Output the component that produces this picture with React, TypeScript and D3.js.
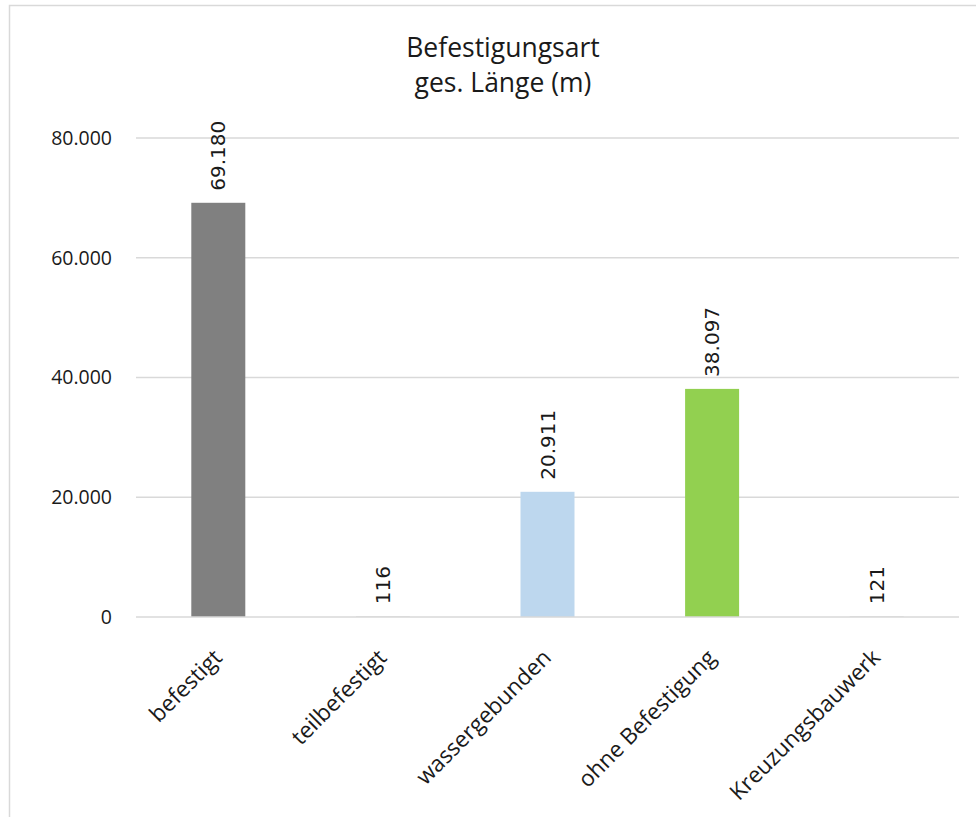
import { useEffect, useRef } from "react";
import * as d3 from "d3";

const categories = [
  "befestigt",
  "teilbefestigt",
  "wassergebunden",
  "ohne Befestigung",
  "Kreuzungsbauwerk",
];
const lengths = [69180, 116, 20911, 38097, 121];
const barColors = ["#808080", "#d9d9d9", "#bdd7ee", "#92d050", "#d9d9d9"];
const yTicks = [0, 20000, 40000, 60000, 80000];
const titleLines = ["Befestigungsart", "ges. Länge (m)"];

const width = 976;
const height = 817;
const margin = { top: 138, right: 17, bottom: 200, left: 136 };

const fmt = (v: number) => d3.format(",")(v).replace(/,/g, ".");

export default function App() {
  const svgRef = useRef<SVGSVGElement>(null);

  useEffect(() => {
    if (!svgRef.current) return;
    const svg = d3.select(svgRef.current);
    svg.selectAll("*").remove();

    const innerWidth = width - margin.left - margin.right;
    const innerHeight = height - margin.top - margin.bottom;

    // chart area frame
    svg
      .append("rect")
      .attr("x", 9.5)
      .attr("y", 5.5)
      .attr("width", width + 20)
      .attr("height", height + 20)
      .attr("fill", "#fff")
      .attr("stroke", "#d9d9d9")
      .attr("stroke-width", 1.5);

    // title
    svg
      .append("text")
      .attr("text-anchor", "middle")
      .attr("font-family", "Open Sans")
      .attr("font-size", 26.5)
      .attr("fill", "#1a1a1a")
      .selectAll("tspan")
      .data(titleLines)
      .join("tspan")
      .attr("x", 503)
      .attr("y", (_, i) => 57 + i * 35)
      .text((d) => d);

    const x = d3
      .scaleBand()
      .domain(categories)
      .range([0, innerWidth])
      .paddingInner(0.67)
      .paddingOuter(0.335);

    const y = d3.scaleLinear().domain([0, 80000]).range([innerHeight, 0]);

    const g = svg
      .append("g")
      .attr("transform", `translate(${margin.left},${margin.top})`);

    // gridlines
    g.selectAll(".grid")
      .data(yTicks.slice(1))
      .join("line")
      .attr("x1", 0)
      .attr("x2", innerWidth)
      .attr("y1", (d) => y(d))
      .attr("y2", (d) => y(d))
      .attr("stroke", "#d9d9d9")
      .attr("stroke-width", 1.5);

    // y tick labels
    g.selectAll(".ytick")
      .data(yTicks)
      .join("text")
      .attr("x", -24)
      .attr("y", (d) => y(d))
      .attr("dy", "0.35em")
      .attr("text-anchor", "end")
      .attr("font-family", "Open Sans")
      .attr("font-size", 19.5)
      .attr("fill", "#1a1a1a")
      .text((d) => fmt(d));

    // bars
    const barW = 54;
    g.selectAll(".bar")
      .data(lengths)
      .join("rect")
      .attr("x", (_, i) => (x(categories[i]) || 0) + x.bandwidth() / 2 - barW / 2)
      .attr("y", (d) => y(d))
      .attr("width", barW)
      .attr("height", (d) => innerHeight - y(d))
      .attr("fill", (_, i) => barColors[i]);

    // x axis line
    g.append("line")
      .attr("x1", 0)
      .attr("x2", innerWidth)
      .attr("y1", innerHeight)
      .attr("y2", innerHeight)
      .attr("stroke", "#d9d9d9")
      .attr("stroke-width", 1.5);

    // value labels
    g.selectAll(".value")
      .data(lengths)
      .join("text")
      .attr("transform", (d, i) => {
        const cx = (x(categories[i]) || 0) + x.bandwidth() / 2;
        return `translate(${cx + 7},${y(d) - 12}) rotate(-90)`;
      })
      .attr("text-anchor", "start")
      .attr("font-family", "DejaVu Sans")
      .attr("font-size", 20)
      .attr("fill", "#1a1a1a")
      .text((d) => fmt(d));

    // category labels
    g.selectAll(".cat")
      .data(categories)
      .join("text")
      .attr("transform", (d) => {
        const cx = (x(d) || 0) + x.bandwidth() / 2;
        return `translate(${cx + 5},${innerHeight + 42}) rotate(-45)`;
      })
      .attr("text-anchor", "end")
      .attr("font-family", "Open Sans")
      .attr("font-size", 22.5)
      .attr("fill", "#1a1a1a")
      .text((d) => d);
  }, []);

  return (
    <svg
      ref={svgRef}
      width={width}
      height={height}
      style={{ position: "absolute", left: 0, top: 0, background: "#fff" }}
    />
  );
}
